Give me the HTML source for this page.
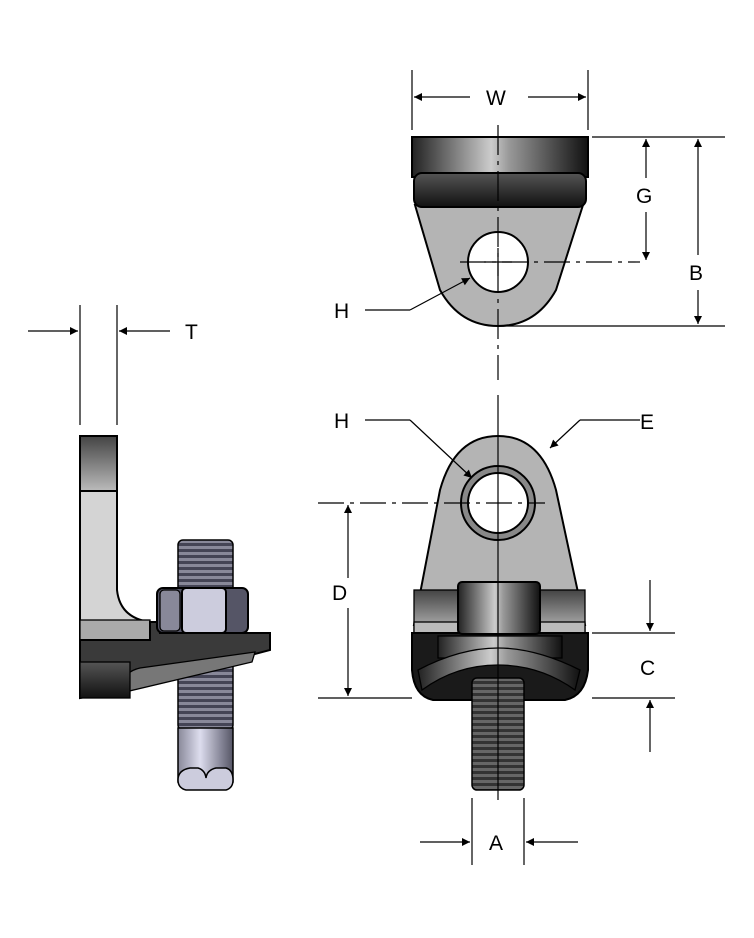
<!DOCTYPE html>
<html><head><style>body{margin:0;background:#fff}svg{display:block}text{font-family:"Liberation Sans",sans-serif;font-size:21px;fill:#000}</style></head>
<body>
<svg width="754" height="938" viewBox="0 0 754 938" xmlns="http://www.w3.org/2000/svg">
<defs>
<linearGradient id="cyl" x1="0" x2="1"><stop offset="0" stop-color="#222"/><stop offset="0.45" stop-color="#ccc"/><stop offset="0.55" stop-color="#999"/><stop offset="1" stop-color="#111"/></linearGradient>
<linearGradient id="v" x1="0" y1="0" x2="0" y2="1"><stop offset="0" stop-color="#555"/><stop offset="0.5" stop-color="#333"/><stop offset="1" stop-color="#111"/></linearGradient>
<linearGradient id="vt" x1="0" y1="0" x2="0" y2="1"><stop offset="0" stop-color="#444"/><stop offset="1" stop-color="#bbb"/></linearGradient>
<linearGradient id="rod" x1="0" x2="1"><stop offset="0" stop-color="#889"/><stop offset="0.4" stop-color="#dde"/><stop offset="1" stop-color="#556"/></linearGradient>
<pattern id="thr" width="10" height="6" patternUnits="userSpaceOnUse"><rect width="10" height="6" fill="#333"/><rect y="0" width="10" height="3" fill="#666"/></pattern>
<pattern id="thr2" width="10" height="6" patternUnits="userSpaceOnUse"><rect width="10" height="6" fill="#445"/><rect y="0" width="10" height="3" fill="#889"/></pattern>
<marker id="a" viewBox="0 0 10 10" refX="10" refY="5" markerWidth="14" markerHeight="8" orient="auto-start-reverse" markerUnits="userSpaceOnUse"><path d="M0,0L10,5L0,10z" fill="#000"/></marker>
</defs>
<g stroke="#000" stroke-width="1.3" fill="none">
<!-- TOP VIEW -->
<path d="M415,205 L440,290 Q460,326 498,326 Q536,326 556,290 L583,205 Z" fill="#b4b4b4" stroke-width="2"/>
<rect x="412" y="137" width="176" height="40" fill="url(#cyl)" stroke-width="2"/>
<rect x="414" y="173" width="172" height="34" rx="8" fill="url(#v)" stroke-width="2"/>
<circle cx="498" cy="262" r="30" fill="#fff" stroke-width="2"/>
<!-- BOTTOM VIEW -->
<path d="M414,625 L440,490 Q455,436 498,436 Q541,436 556,490 L585,625 Z" fill="#b4b4b4" stroke-width="2"/>
<circle cx="498" cy="503" r="37" fill="#888" stroke-width="2"/>
<circle cx="498" cy="503" r="30" fill="#fff" stroke-width="2"/>
<rect x="414" y="590" width="171" height="43" fill="url(#vt)"/>
<rect x="414" y="622" width="171" height="11" fill="#bbb"/>
<path d="M412,633 L588,633 L588,670 Q585,696 565,700 L433,700 Q414,696 412,670 Z" fill="#1a1a1a" stroke-width="2"/>
<rect x="438" y="636" width="124" height="22" fill="url(#cyl)"/>
<path d="M418,670 Q460,648 498,648 Q536,648 580,670 L575,690 Q540,665 498,665 Q456,665 422,690 Z" fill="url(#cyl)"/>
<rect x="458" y="582" width="82" height="52" rx="4" fill="url(#cyl)" stroke-width="2"/>
<rect x="472" y="678" width="52" height="112" rx="5" fill="url(#thr)" stroke-width="1.5"/>
<!-- SIDE VIEW -->
<rect x="178" y="540" width="55" height="190" rx="5" fill="url(#thr2)" stroke-width="1.5"/>
<rect x="178" y="728" width="55" height="54" fill="url(#rod)" stroke-width="1.5"/>
<path d="M178,780 Q178,770 190,768 L198,768 Q205,770 206,778 Q207,770 216,768 L226,768 Q233,770 233,780 Q233,788 226,790 L186,790 Q178,788 178,780Z" fill="#ccd" stroke-width="1.5"/>
<rect x="80" y="436" width="37" height="55" fill="url(#vt)" stroke-width="2"/>
<path d="M80,491 L117,491 L117,590 Q120,618 150,622 L150,640 L80,640 Z" fill="#d4d4d4" stroke-width="2"/>
<rect x="80" y="620" width="70" height="20" fill="#aaa"/>
<path d="M80,640 L150,640 L150,622 L160,622 L160,633 L270,633 L270,650 L120,690 L80,698 Z" fill="#3a3a3a" stroke-width="2"/>
<path d="M120,690 Q122,672 140,668 L255,652 L252,662 L125,692 Z" fill="#777"/>
<rect x="80" y="662" width="50" height="36" fill="url(#v)"/>
<rect x="157" y="588" width="91" height="45" rx="6" fill="#556" stroke-width="2"/>
<rect x="182" y="588" width="44" height="45" rx="4" fill="#ccd" stroke-width="2"/>
<rect x="160" y="590" width="20" height="41" rx="4" fill="#889"/>
</g>
<g stroke="#000" stroke-width="1.2" fill="none">
<line x1="498" y1="125" x2="498" y2="380" stroke-dasharray="30,6,4,6"/>
<line x1="498" y1="395" x2="498" y2="800"/>
<line x1="460" y1="262" x2="640" y2="262" stroke-dasharray="26,6,4,6"/>
<line x1="318" y1="503" x2="545" y2="503" stroke-dasharray="26,6,4,6"/>
<line x1="484" y1="262" x2="512" y2="262"/><line x1="498" y1="248" x2="498" y2="276"/>
<line x1="412" y1="70" x2="412" y2="130"/><line x1="588" y1="70" x2="588" y2="130"/>
<line x1="470" y1="97" x2="414" y2="97" marker-end="url(#a)"/><line x1="528" y1="97" x2="586" y2="97" marker-end="url(#a)"/>
<line x1="592" y1="137" x2="725" y2="137"/><line x1="500" y1="326" x2="725" y2="326"/>
<line x1="646" y1="178" x2="646" y2="139" marker-end="url(#a)"/><line x1="646" y1="212" x2="646" y2="260" marker-end="url(#a)"/>
<line x1="698" y1="255" x2="698" y2="139" marker-end="url(#a)"/><line x1="698" y1="290" x2="698" y2="324" marker-end="url(#a)"/>
<line x1="365" y1="310" x2="410" y2="310"/><line x1="410" y1="310" x2="470" y2="278" marker-end="url(#a)"/>
<line x1="365" y1="420" x2="410" y2="420"/><line x1="410" y1="420" x2="472" y2="478" marker-end="url(#a)"/>
<line x1="640" y1="420" x2="580" y2="420"/><line x1="580" y1="420" x2="550" y2="448" marker-end="url(#a)"/>
<line x1="318" y1="698" x2="412" y2="698"/>
<line x1="348" y1="578" x2="348" y2="505" marker-end="url(#a)"/><line x1="348" y1="608" x2="348" y2="696" marker-end="url(#a)"/>
<line x1="592" y1="633" x2="675" y2="633"/><line x1="592" y1="698" x2="675" y2="698"/>
<line x1="650" y1="580" x2="650" y2="631" marker-end="url(#a)"/><line x1="650" y1="752" x2="650" y2="700" marker-end="url(#a)"/>
<line x1="472" y1="798" x2="472" y2="865"/><line x1="524" y1="798" x2="524" y2="865"/>
<line x1="420" y1="842" x2="470" y2="842" marker-end="url(#a)"/><line x1="578" y1="842" x2="526" y2="842" marker-end="url(#a)"/>
<line x1="80" y1="305" x2="80" y2="425"/><line x1="117" y1="305" x2="117" y2="425"/>
<line x1="28" y1="331" x2="78" y2="331" marker-end="url(#a)"/><line x1="170" y1="331" x2="119" y2="331" marker-end="url(#a)"/>
</g>
<text x="486" y="105">W</text>
<text x="636" y="203">G</text>
<text x="689" y="280">B</text>
<text x="334" y="318">H</text>
<text x="334" y="428">H</text>
<text x="640" y="429">E</text>
<text x="332" y="600">D</text>
<text x="640" y="675">C</text>
<text x="489" y="850">A</text>
<text x="185" y="339">T</text>
</svg>
</body></html>
